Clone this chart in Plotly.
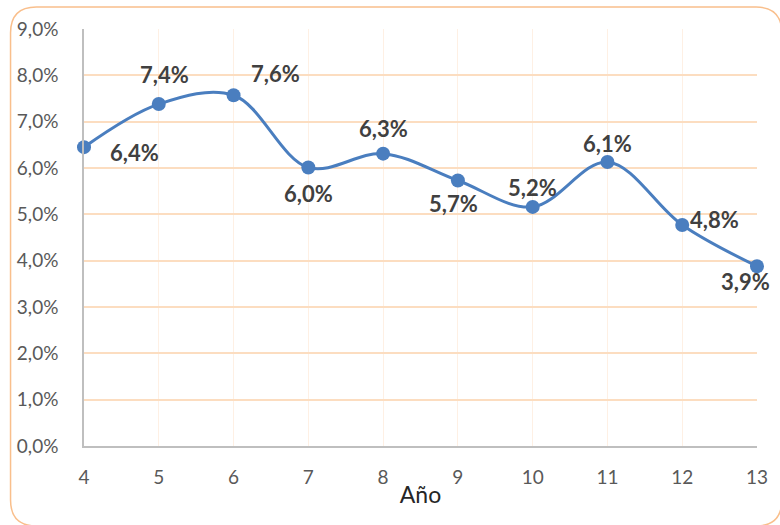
import plotly.graph_objects as go

# data
years = [4, 5, 6, 7, 8, 9, 10, 11, 12, 13]
rates = [0.0645, 0.0738, 0.0757, 0.0601, 0.0631, 0.0573, 0.0516, 0.0613, 0.0477, 0.0388]
labels = ['6,4%', '7,4%', '7,6%', '6,0%', '6,3%', '5,7%', '5,2%', '6,1%', '4,8%', '3,9%']
y_ticks = [0, 0.01, 0.02, 0.03, 0.04, 0.05, 0.06, 0.07, 0.08, 0.09]

# label offsets in pixels (x, y)
shifts = [(50, -5), (6, 30), (42, 22), (0, -26), (0, 25),
          (-4, -23), (0, 19), (0, 18), (32, 5), (-12, -15)]

W, H = 780, 525
L, R, T, B = 84, 18, 29, 79
pw, ph = W - L - R, H - T - B

def px(x):
    return (x - L) / pw

def py(y):
    return (H - B - y) / ph

fig = go.Figure(go.Scatter(
    x=years, y=rates, mode='lines+markers',
    line=dict(color='#4A7EBF', width=3, shape='spline', smoothing=1),
    marker=dict(color='#4A7EBF', size=14),
    cliponaxis=False, hoverinfo='skip'))

for x, y, t, (dx, dy) in zip(years, rates, labels, shifts):
    fig.add_annotation(x=x, y=y, text='<b>' + t + '</b>', showarrow=False,
                       xshift=dx, yshift=dy,
                       font=dict(size=22, color='#404040', family='Lato'))

# rounded chart border (right edge runs just off the page)
x0, x1, y0, y1, r = 10, 787, 7, 526, 26
path = ('M {a},{b} L {c},{b} Q {e},{b} {e},{f} L {e},{g} Q {e},{h} {c},{h} '
        'L {a},{h} Q {i},{h} {i},{g} L {i},{f} Q {i},{b} {a},{b} Z').format(
    a=px(x0 + r), b=py(y0), c=px(x1 - r), e=px(x1), f=py(y0 + r),
    g=py(y1 - r), h=py(y1), i=px(x0))
fig.add_shape(type='path', path=path, xref='paper', yref='paper',
              line=dict(color='#F9BF8C', width=1.5), layer='below')

fig.update_layout(
    width=W, height=H, margin=dict(l=L, r=R, t=T, b=B),
    paper_bgcolor='white', plot_bgcolor='white', showlegend=False,
    separators=',.',
    font=dict(family='Lato', color='#595959', size=19),
    xaxis=dict(range=[4, 13], tickvals=years, showgrid=True,
               gridcolor='#FEF0E4', gridwidth=1, showline=True,
               linecolor='#BFBFBF', linewidth=1.5, zeroline=False,
               ticks='', ticklabelstandoff=13,
               title=dict(text='Año', font=dict(size=23, color='#262626'), standoff=0)),
    yaxis=dict(range=[0, 0.09], tickvals=y_ticks, tickformat='.1%',
               showgrid=True, gridcolor='#FCDDC0', gridwidth=1.5,
               showline=True, linecolor='#BFBFBF', linewidth=1.5,
               zeroline=False, ticks='', ticklabelstandoff=20),
)

fig.write_html("out.html", config={'displayModeBar': False},
               post_script="document.body.style.margin='0';")
